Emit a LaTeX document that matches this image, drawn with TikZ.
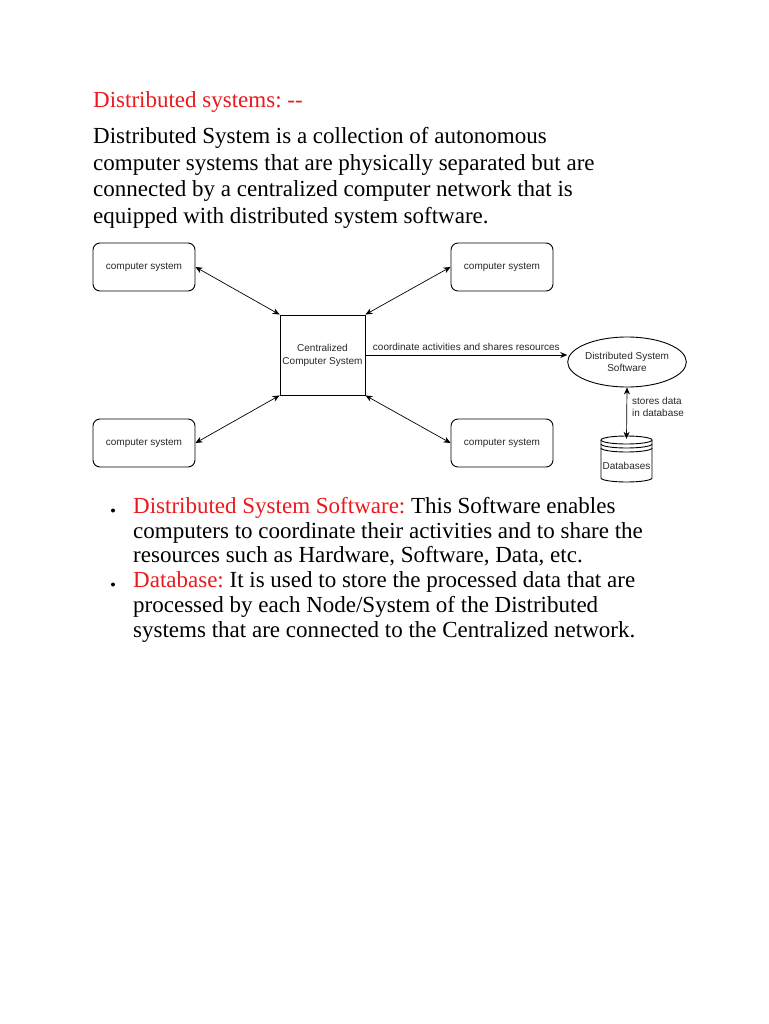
\documentclass[tikz,border=0pt]{standalone}
\usepackage{fontspec}
\setmainfont{Liberation Serif}
\newfontfamily\diagfont{Liberation Sans}
\usetikzlibrary{arrows.meta,shapes.geometric,calc}
\definecolor{headred}{RGB}{235,25,30}
\definecolor{diagtext}{RGB}{40,40,40}
\frenchspacing
\begin{document}
\begin{tikzpicture}[x=1pt,y=1pt,
  txt/.style={anchor=base west,inner sep=0pt,font=\fontsize{23}{27}\selectfont},
  csbox/.style={draw,rounded corners=7pt,minimum width=102pt,minimum height=48pt,inner sep=0pt,font=\diagfont\fontsize{10}{12}\selectfont,text=diagtext,line width=0.9pt},
  cenbox/.style={draw,minimum width=85pt,minimum height=80pt,inner sep=0pt,align=center,font=\diagfont\fontsize{10}{13}\selectfont,text=diagtext,line width=0.9pt},
  ellbox/.style={draw,ellipse,minimum width=102pt,minimum height=50pt,inner sep=0pt,align=center,font=\diagfont\fontsize{10}{12.5}\selectfont,text=diagtext,line width=0.9pt},
  dbbox/.style={minimum width=51pt,minimum height=46pt,inner sep=0pt},
  lbl/.style={font=\diagfont\fontsize{10}{12}\selectfont,text=diagtext,inner sep=0pt},
  biarr/.style={{Stealth[length=7pt,width=6pt]}-{Stealth[length=7pt,width=6pt]},line width=0.7pt},
  onearr/.style={-{Stealth[length=7pt,width=6pt]},line width=0.7pt},
  bullet/.style={circle,fill=black,inner sep=0pt,minimum size=4pt}
]
\fill[white] (0,0) rectangle (768,-1024);
\useasboundingbox (0,0) rectangle (768,-1024);

% heading and paragraph
\node[txt,text=headred] (title) at (93,-108) {Distributed systems: -{}-};
\node[txt] (p1) at (93,-144) {Distributed System is a collection of autonomous};
\node[txt] (p2) at (93,-170.5) {computer systems that are physically separated but are};
\node[txt] (p3) at (93,-197) {connected by a centralized computer network that is};
\node[txt] (p4) at (93,-224) {equipped with distributed system software.};

% diagram
\node[csbox] (tl) at (144,-267) {computer system};
\node[csbox] (bl) at (144,-443) {computer system};
\node[csbox] (tr) at (502,-267) {computer system};
\node[csbox] (br) at (502,-443) {computer system};
\node[cenbox] (cen) at (322.5,-355) {Centralized\\Computer System};
\node[ellbox] (dss) at (627,-362) {Distributed System\\Software};
\node[dbbox] (db) at (626.5,-459) {};
\node[lbl] (dbtxt) at (626.5,-466) {Databases};

\draw[line width=0.9pt] (626.5,-440) ellipse [x radius=25.5, y radius=4];
\draw[line width=0.9pt] (601,-444) arc[start angle=180,end angle=360,x radius=25.5,y radius=4];
\draw[line width=0.9pt] (601,-448) arc[start angle=180,end angle=360,x radius=25.5,y radius=4];
\draw[line width=0.9pt] (601,-440) -- (601,-478) arc[start angle=180,end angle=360,x radius=25.5,y radius=4] -- (652,-440);

\draw[biarr] (tl.east) -- (cen.north west);
\draw[biarr] (bl.east) -- (cen.south west);
\draw[biarr] (tr.west) -- (cen.north east);
\draw[biarr] (br.west) -- (cen.south east);
\draw[onearr] (cen.east) -- (cen.east -| dss.west) node[lbl,midway,above=4pt] (coord) {coordinate activities and shares resources};
\draw[biarr] (dss.south) -- ($(db.north)+(0,-3)$);
\node[lbl,anchor=west,align=left] (stores) at (632,-407) {stores data\\in database};

% bullet list
\node[bullet] (b1) at (113,-510.5) {};
\node[txt] (l1) at (133,-513) {\textcolor{headred}{Distributed System Software:} This Software enables};
\node[txt] (l2) at (133,-538) {computers to coordinate their activities and to share the};
\node[txt] (l3) at (133,-562.5) {resources such as Hardware, Software, Data, etc.};
\node[bullet] (b2) at (113,-584.5) {};
\node[txt] (l4) at (133,-587) {\textcolor{headred}{Database:} It is used to store the processed data that are};
\node[txt] (l5) at (133,-612) {processed by each Node/System of the Distributed};
\node[txt] (l6) at (133,-637) {systems that are connected to the Centralized network.};
\end{tikzpicture}
\end{document}
